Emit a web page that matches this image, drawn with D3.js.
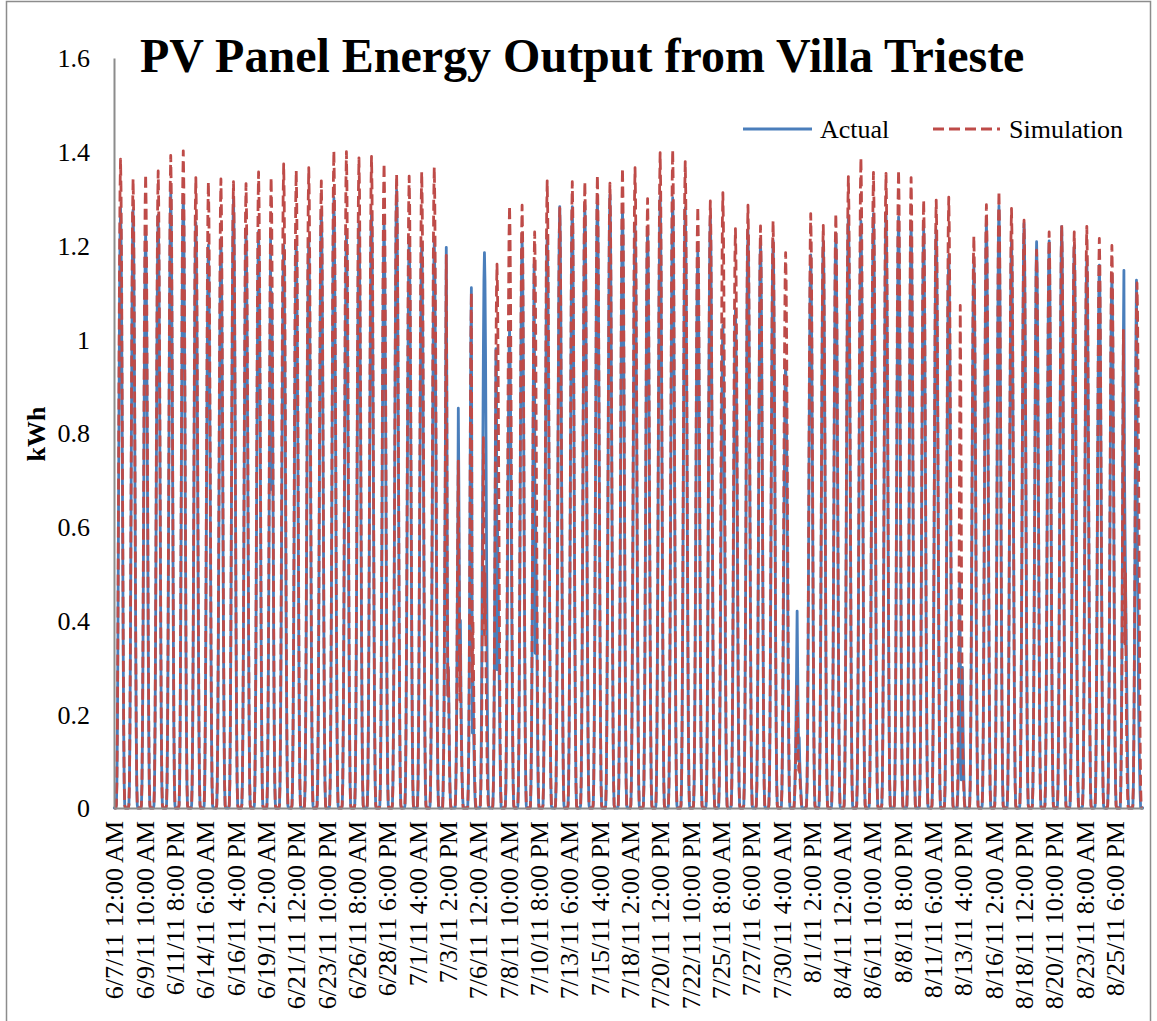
<!DOCTYPE html>
<html>
<head>
<meta charset="utf-8">
<title>PV Panel Energy Output from Villa Trieste</title>
<script src="https://cdn.jsdelivr.net/npm/d3@7"></script>
<style>
  body { margin: 0; background: #ffffff; }
  svg { display: block; }
  text { font-family: "Liberation Serif", "Times New Roman", "DejaVu Serif", serif; fill: #000; }
</style>
</head>
<body>
<svg id="chart" width="1157" height="1021"></svg>
<script>
// Hourly PV output, 6/7/11 00:00 through 8/27/11 23:00 (82 days x 24 hours).

const chartTitle = "PV Panel Energy Output from Villa Trieste";
const seriesNames = ["Actual", "Simulation"];
const yTitle = "kWh";
const serif = "Liberation Serif, Times New Roman, DejaVu Serif, serif";

// category labels shown every 58 hours
const xTickLabels = [
  "6/7/11 12:00 AM", "6/9/11 10:00 AM", "6/11/11 8:00 PM", "6/14/11 6:00 AM",
  "6/16/11 4:00 PM", "6/19/11 2:00 AM", "6/21/11 12:00 PM", "6/23/11 10:00 PM",
  "6/26/11 8:00 AM", "6/28/11 6:00 PM", "7/1/11 4:00 AM", "7/3/11 2:00 PM",
  "7/6/11 12:00 AM", "7/8/11 10:00 AM", "7/10/11 8:00 PM", "7/13/11 6:00 AM",
  "7/15/11 4:00 PM", "7/18/11 2:00 AM", "7/20/11 12:00 PM", "7/22/11 10:00 PM",
  "7/25/11 8:00 AM", "7/27/11 6:00 PM", "7/30/11 4:00 AM", "8/1/11 2:00 PM",
  "8/4/11 12:00 AM", "8/6/11 10:00 AM", "8/8/11 8:00 PM", "8/11/11 6:00 AM",
  "8/13/11 4:00 PM", "8/16/11 2:00 AM", "8/18/11 12:00 PM", "8/20/11 10:00 PM",
  "8/23/11 8:00 AM", "8/25/11 6:00 PM"
];
const labelEveryHours = 58;

const yTicks = [0, 0.2, 0.4, 0.6, 0.8, 1, 1.2, 1.4, 1.6];
const yTickLabels = ["0", "0.2", "0.4", "0.6", "0.8", "1", "1.2", "1.4", "1.6"];

// daily peak output (kWh), one value per day starting 6/7/11
const actualPeak = [
  1.28, 1.276, 1.226, 1.265, 1.315, 1.308, 1.249, 1.201, 1.215, 1.302,
  1.23, 1.23, 1.224, 1.20, 1.21, 1.215, 1.276, 1.302, 1.224, 1.247,
  1.273, 1.25, 1.318, 1.216, 1.206, 1.208, 1.196, 0.853, 1.11, 1.185,
  0.98, 1.02, 1.216, 1.16, 1.222, 1.283, 1.283, 1.286, 1.30, 1.308,
  1.279, 1.243, 1.234, 1.304, 1.302, 1.28, 1.186, 1.261, 1.03, 1.062,
  1.233, 1.211, 1.211, 0.95, 0.42, 1.18, 1.21, 1.226, 1.265, 1.252,
  1.268, 1.27, 1.261, 1.247, 1.236, 1.233, 1.18, 0.494, 1.16, 1.252,
  1.285, 1.21, 1.247, 1.208, 1.21, 1.24, 1.20, 1.172, 1.158, 1.137,
  1.147, 1.126
];
const simPeak = [
  1.384, 1.342, 1.352, 1.359, 1.392, 1.402, 1.345, 1.336, 1.342, 1.336,
  1.332, 1.357, 1.345, 1.374, 1.36, 1.366, 1.338, 1.402, 1.40, 1.387,
  1.39, 1.375, 1.352, 1.348, 1.357, 1.367, 1.179, 0.74, 1.10, 0.79,
  1.16, 1.285, 1.286, 1.229, 1.338, 1.28, 1.336, 1.336, 1.35, 1.333,
  1.365, 1.366, 1.30, 1.398, 1.404, 1.379, 1.283, 1.295, 1.313, 1.236,
  1.286, 1.242, 1.252, 1.185, 0.263, 1.268, 1.243, 1.268, 1.347, 1.387,
  1.356, 1.354, 1.361, 1.345, 1.297, 1.297, 1.303, 1.072, 1.22, 1.287,
  1.316, 1.279, 1.254, 1.19, 1.229, 1.243, 1.229, 1.241, 1.215, 1.20,
  1.019, 1.12
];

// clear-day hourly profile (fraction of the day's peak), hours 0-23
const hourProfile = [
  0, 0, 0, 0, 0.005, 0.04, 0.13, 0.28, 0.47, 0.66, 0.83, 0.95,
  1, 0.95, 0.83, 0.66, 0.47, 0.28, 0.13, 0.04, 0.005, 0, 0, 0
];

// overcast days with irregular hourly output: [day index, hours 0-23]
const actualCloudyDays = [
  [12, [0,0,0,0,0,0.05,0.16,0.34,0.56,0.78,1.0,1.224,0.68,1.1,1.0,0.8,0.58,0.34,0.16,0.05,0.01,0,0,0]],
  [26, [0,0,0,0,0,0.04,0.12,0.26,0.49,0.7,0.95,1.196,0.9,0.5,0.24,0.3,0.22,0.12,0.05,0.01,0,0,0,0]],
  [27, [0,0,0,0,0,0.03,0.1,0.22,0.4,0.6,0.853,0.7,0.5,0.3,0.4,0.25,0.16,0.08,0.03,0.01,0,0,0,0]],
  [28, [0,0,0,0,0,0.04,0.13,0.3,0.55,0.8,1.0,1.11,0.6,0.16,0.29,0.2,0.12,0.06,0.02,0,0,0,0,0]],
  [30, [0,0,0,0,0,0.04,0.12,0.3,0.55,0.8,0.98,0.92,0.295,0.6,0.5,0.4,0.3,0.2,0.1,0.03,0,0,0,0]],
  [33, [0,0,0,0,0,0.05,0.15,0.32,0.55,0.8,1.0,1.16,0.89,0.33,0.6,0.5,0.4,0.25,0.1,0.03,0,0,0,0]],
  [54, [0,0,0,0,0,0.02,0.06,0.12,0.2,0.3,0.42,0.3,0.2,0.1,0.15,0.1,0.07,0.04,0.02,0,0,0,0,0]],
  [67, [0,0,0,0,0,0.02,0.06,0.15,0.3,0.494,0.35,0.2,0.06,0.25,0.3,0.2,0.12,0.06,0.02,0,0,0,0,0]],
  [80, [0,0,0,0,0,0.04,0.14,0.3,0.5,0.8,1.0,1.147,0.738,0.6,0.5,0.4,0.3,0.2,0.1,0.03,0,0,0,0]],
  [81, [0,0,0,0,0,0.04,0.14,0.3,0.52,0.8,1.0,1.126,0.9,0.51,0.4,0.22,0.15,0.08,0.03,0,0,0,0,0]]
];
const simCloudyDays = [
  [26, [0,0,0,0,0,0.04,0.12,0.24,0.49,0.7,0.95,1.179,0.85,0.45,0.24,0.3,0.2,0.1,0.04,0.01,0,0,0,0]],
  [27, [0,0,0,0,0,0.03,0.1,0.23,0.45,0.6,0.74,0.55,0.4,0.23,0.35,0.22,0.14,0.07,0.03,0,0,0,0,0]],
  [28, [0,0,0,0,0,0.04,0.13,0.3,0.55,0.8,1.0,1.10,0.55,0.27,0.4,0.3,0.2,0.1,0.04,0.01,0,0,0,0]],
  [29, [0,0,0,0,0,0.03,0.1,0.22,0.4,0.6,0.79,0.6,0.37,0.5,0.4,0.3,0.2,0.1,0.04,0.01,0,0,0,0]],
  [54, [0,0,0,0,0,0.02,0.05,0.1,0.15,0.2,0.263,0.2,0.12,0.08,0.1,0.07,0.05,0.03,0.01,0,0,0,0,0]],
  [67, [0,0,0,0,0,0.04,0.14,0.3,0.55,0.84,1.072,0.9,0.6,0.35,0.2,0.12,0.07,0.03,0.01,0,0,0,0,0]],
  [80, [0,0,0,0,0,0.04,0.12,0.26,0.5,0.8,1.019,0.738,0.55,0.35,0.5,0.3,0.18,0.08,0.03,0,0,0,0,0]]
];

// expand daily peaks into the hourly series
function hourly(peaks, cloudy) {
  const special = new Map(cloudy);
  const out = [];
  peaks.forEach((p, day) => {
    const row = special.get(day);
    for (let h = 0; h < 24; h++) out.push(row ? row[h] : p * hourProfile[h]);
  });
  return out;
}
const actual = hourly(actualPeak, actualCloudyDays);
const simulation = hourly(simPeak, simCloudyDays);
const nHours = actual.length;

const svg = d3.select("#chart");
const plot = { left: 114, right: 1143, top: 58, bottom: 808 };

// chart-area frame
svg.append("rect")
  .attr("x", 6.5).attr("y", 1.5).attr("width", 1144).attr("height", 1030)
  .attr("fill", "#fff").attr("stroke", "#8c8c8c").attr("stroke-width", 1.5);

const x = d3.scaleBand().domain(d3.range(nHours)).range([plot.left, plot.right]);
const y = d3.scaleLinear().domain([0, 1.6]).range([plot.bottom, plot.top]);
const cx = i => x(i) + x.bandwidth() / 2;

const line = d3.line().x((d, i) => cx(i)).y(d => y(d)).curve(d3.curveLinear);

const colActual = "#4a7ebb";
const colSim = "#be4b48";

svg.append("path").datum(actual)
  .attr("d", line)
  .attr("fill", "none").attr("stroke", colActual).attr("stroke-width", 2.8)
  .attr("stroke-linejoin", "round").attr("stroke-linecap", "round");

svg.append("path").datum(simulation)
  .attr("d", line)
  .attr("fill", "none").attr("stroke", colSim).attr("stroke-width", 2.8)
  .attr("stroke-dasharray", "11,5")
  .attr("stroke-linejoin", "round");

// y axis
const yAxis = d3.axisLeft(y).tickValues(yTicks)
  .tickFormat((d, i) => yTickLabels[i]).tickSize(0).tickPadding(24);
const gy = svg.append("g").attr("transform", `translate(${plot.left},0)`).call(yAxis);
gy.attr("font-family", serif);
gy.select(".domain").attr("stroke", "#8c8c8c").attr("stroke-width", 2);
gy.selectAll("text").attr("font-size", 26).attr("font-family", serif).attr("dy", "0.34em");

// x axis
const labelHours = xTickLabels.map((_, k) => k * labelEveryHours);
const xAxis = d3.axisBottom(x).tickValues(labelHours)
  .tickFormat((d, i) => xTickLabels[i]).tickSize(0);
const gx = svg.append("g").attr("transform", `translate(0,${plot.bottom})`).call(xAxis);
gx.attr("font-family", serif);
gx.select(".domain").attr("stroke", "#8c8c8c").attr("stroke-width", 2);
gx.selectAll("text")
  .attr("font-size", 26).attr("font-family", serif)
  .attr("text-anchor", "end")
  .attr("transform", "rotate(-90)")
  .attr("x", -13).attr("y", 0).attr("dy", "0.34em");

// axis title
svg.append("text")
  .attr("transform", `translate(45,${434}) rotate(-90)`)
  .attr("text-anchor", "middle")
  .attr("font-family", serif)
  .attr("font-size", 26).attr("font-weight", "bold")
  .text(yTitle);

// chart title
svg.append("text")
  .attr("x", 140).attr("y", 72)
  .attr("font-family", serif)
  .attr("font-size", 48).attr("font-weight", "bold")
  .text(chartTitle);

// legend
const legend = svg.append("g").attr("font-family", serif);
legend.append("line").attr("x1", 743).attr("x2", 812).attr("y1", 129).attr("y2", 129)
  .attr("stroke", colActual).attr("stroke-width", 2.8);
legend.append("text").attr("x", 820).attr("y", 129).attr("dy", "0.34em")
  .attr("font-size", 26).text(seriesNames[0]);
legend.append("line").attr("x1", 933).attr("x2", 1000).attr("y1", 129).attr("y2", 129)
  .attr("stroke", colSim).attr("stroke-width", 2.8).attr("stroke-dasharray", "11,5");
legend.append("text").attr("x", 1009).attr("y", 129).attr("dy", "0.34em")
  .attr("font-size", 26).text(seriesNames[1]);
</script>
</body>
</html>
